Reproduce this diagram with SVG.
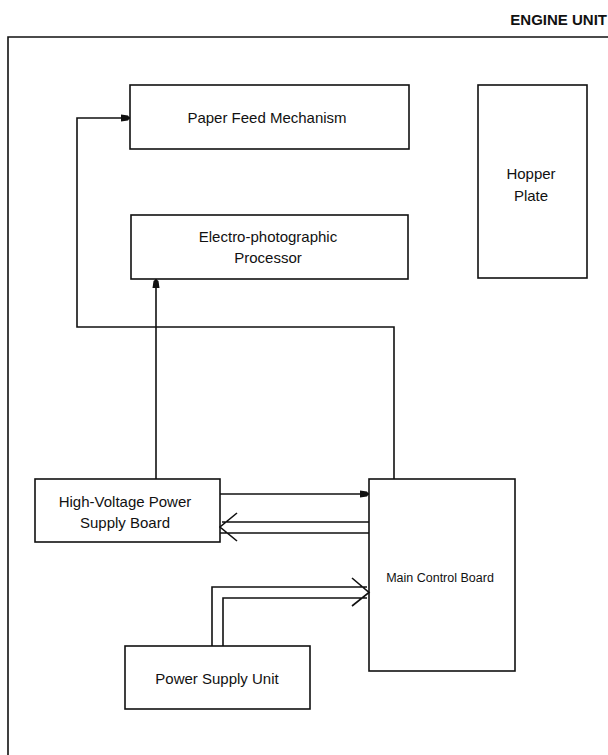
<svg xmlns="http://www.w3.org/2000/svg" width="608" height="755" viewBox="0 0 608 755">
<style>
  .box{fill:#fff;stroke:#111;stroke-width:1.6}
  .ln{fill:none;stroke:#111;stroke-width:1.6}
  .t{font-family:"Liberation Sans",Arial,sans-serif;font-size:15px;fill:#111;text-anchor:middle}
  .title{font-family:"Liberation Sans",Arial,sans-serif;font-size:15px;font-weight:bold;fill:#111;text-anchor:end}
</style>
<defs>
  <marker id="fill" viewBox="0 0 10 8" refX="10" refY="4" markerWidth="10" markerHeight="8" markerUnits="userSpaceOnUse" orient="auto">
    <path d="M1,0.5 L8,1.5 L10,4 L8,6.5 L1,7.5 Z" fill="#111"/>
  </marker>
</defs>
<rect width="608" height="755" fill="#fff"/>
<text class="title" x="607" y="25">ENGINE UNIT</text>
<path class="ln" d="M609,37 H8 V756" stroke-width="2"/>

<g id="paper-feed"><rect class="box" x="130" y="85" width="279" height="64"/><text class="t" x="267" y="123">Paper Feed Mechanism</text></g>
<g id="electro"><rect class="box" x="131" y="215" width="277" height="64"/><text class="t" x="268" y="242">Electro-photographic</text><text class="t" x="268" y="263">Processor</text></g>
<g id="hopper"><rect class="box" x="478" y="85" width="109" height="193"/><text class="t" x="531" y="179">Hopper</text><text class="t" x="531" y="201">Plate</text></g>
<g id="hv"><rect class="box" x="35" y="479" width="185" height="63"/><text class="t" x="125" y="507">High-Voltage Power</text><text class="t" x="125" y="528">Supply Board</text></g>
<g id="mcb"><rect class="box" x="369" y="479" width="146" height="192"/><text class="t" x="440" y="582" style="font-size:12.5px">Main Control Board</text></g>
<g id="psu"><rect class="box" x="125" y="646" width="185" height="63"/><text class="t" x="217" y="684">Power Supply Unit</text></g>

<g id="connectors">
  <path class="ln" d="M394,479 V327 H77 V118 H130" marker-end="url(#fill)"/>
  <path class="ln" d="M156,479 V279" marker-end="url(#fill)"/>
  <path class="ln" d="M220,494 H369" marker-end="url(#fill)"/>
  <path class="ln" d="M369,522 H222 M369,533 H220 M237,513 L220,527 L237,541"/>
  <path class="ln" d="M212,646 V587 H367 M223,646 V598 H367 M352,578 L369,592.5 L352,606"/>
</g>
</svg>
